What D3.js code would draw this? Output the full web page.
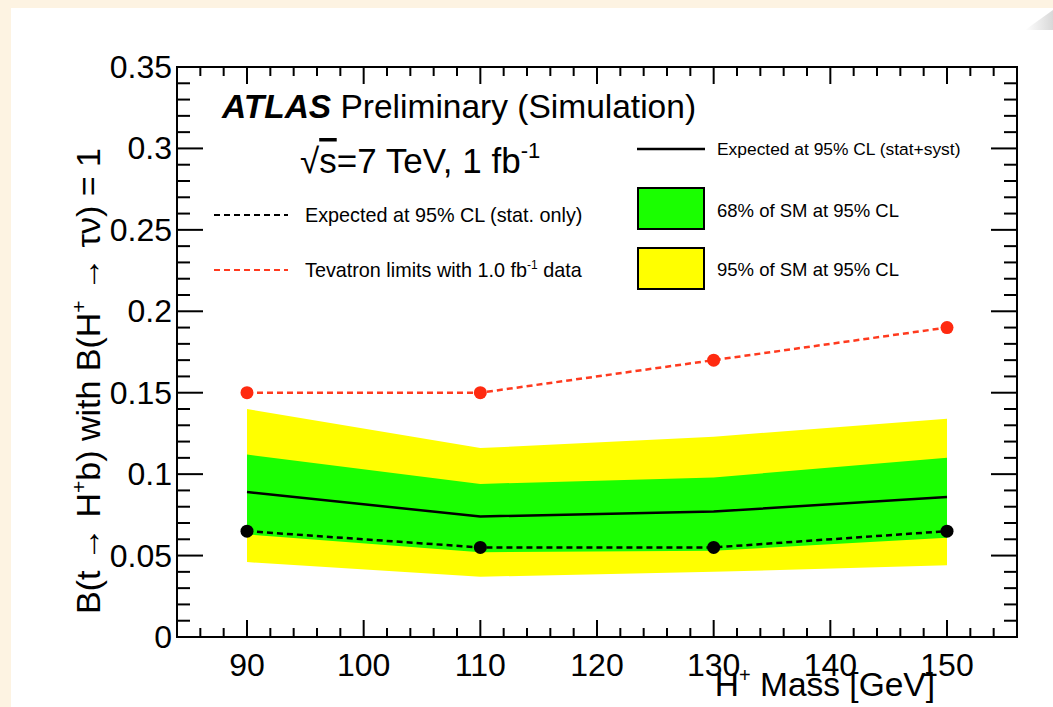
<!DOCTYPE html>
<html><head><meta charset="utf-8">
<script src="https://cdn.jsdelivr.net/npm/d3@7"></script>
<style>html,body{margin:0;padding:0;background:#fdf3e2;} svg{display:block;font-family:"Liberation Sans",Arial,Helvetica,sans-serif;}</style>
</head><body>
<svg id="c" width="1053" height="707"></svg>
<script>
// ---- data ----
const masses = [90, 110, 130, 150];
const tevatron = [0.15, 0.15, 0.17, 0.19];
const expStatOnly = [0.065, 0.055, 0.055, 0.065];
const expStatSyst = [0.089, 0.074, 0.077, 0.086];
const band68Lo = [0.063, 0.052, 0.053, 0.061];
const band68Hi = [0.112, 0.094, 0.098, 0.110];
const band95Lo = [0.046, 0.037, 0.040, 0.044];
const band95Hi = [0.140, 0.116, 0.123, 0.134];
const xTicks = [90, 100, 110, 120, 130, 140, 150];
const yTicks = [0, 0.05, 0.1, 0.15, 0.2, 0.25, 0.3, 0.35];
const yTickLabels = ["0", "0.05", "0.1", "0.15", "0.2", "0.25", "0.3", "0.35"];

const svg = d3.select("#c");
// page background
svg.append("rect").attr("x", 0).attr("y", 0).attr("width", 1053).attr("height", 707).attr("fill", "#fdf3e2");
svg.append("rect").attr("x", 11).attr("y", 8).attr("width", 1042).attr("height", 699).attr("fill", "#ffffff");
const defs = svg.append("defs");
const g0 = defs.append("linearGradient").attr("id", "gr").attr("x1", 0).attr("y1", 0).attr("x2", 1).attr("y2", 0);
g0.append("stop").attr("offset", 0).attr("stop-color", "#ffffff");
g0.append("stop").attr("offset", 1).attr("stop-color", "#d8d8d8");
svg.append("polygon").attr("points", "1025,30 1053,10 1053,30").attr("fill", "url(#gr)");

const L = 177, R = 1017, T = 67, B = 637;
const x = d3.scaleLinear().domain([84, 156]).range([L, R]);
const y = d3.scaleLinear().domain([0, 0.35]).range([B, T]);

// bands
const idx = d3.range(masses.length);
const area = (lo, hi) => d3.area().x(i => x(masses[i])).y0(i => y(lo[i])).y1(i => y(hi[i]))(idx);
svg.append("path").attr("d", area(band95Lo, band95Hi)).attr("fill", "#ffff00");
svg.append("path").attr("d", area(band68Lo, band68Hi)).attr("fill", "#1aff00");

const line = vals => d3.line().x(i => x(masses[i])).y(i => y(vals[i]))(idx);
svg.append("path").attr("d", line(expStatSyst)).attr("fill", "none").attr("stroke", "#000").attr("stroke-width", 2.5);
svg.append("path").attr("d", line(expStatOnly)).attr("fill", "none").attr("stroke", "#000").attr("stroke-width", 2.5).attr("stroke-dasharray", "6,4");
svg.append("path").attr("d", line(tevatron)).attr("fill", "none").attr("stroke", "#ff3a1e").attr("stroke-width", 2.5).attr("stroke-dasharray", "6,4");
svg.selectAll(".pb").data(idx).enter().append("circle").attr("cx", i => x(masses[i])).attr("cy", i => y(expStatOnly[i])).attr("r", 6.5).attr("fill", "#000");
svg.selectAll(".pr").data(idx).enter().append("circle").attr("cx", i => x(masses[i])).attr("cy", i => y(tevatron[i])).attr("r", 6.5).attr("fill", "#ff2a10");

// frame and ticks
const ax = svg.append("g").attr("stroke", "#000").attr("stroke-width", 2);
ax.append("rect").attr("x", L).attr("y", T).attr("width", R - L).attr("height", B - T).attr("fill", "none");
const xMinor = d3.range(86, 156, 2);
xMinor.forEach(v => {
  const major = v % 10 === 0;
  const len = major ? 17 : 9;
  ax.append("line").attr("x1", x(v)).attr("x2", x(v)).attr("y1", B).attr("y2", B - len);
  ax.append("line").attr("x1", x(v)).attr("x2", x(v)).attr("y1", T).attr("y2", T + len);
});
const yMinor = d3.range(1, 35).map(k => k / 100);
yMinor.forEach((v, k) => {
  const major = (k + 1) % 5 === 0;
  const len = major ? 26 : 13;
  ax.append("line").attr("x1", L).attr("x2", L + len).attr("y1", y(v)).attr("y2", y(v));
  ax.append("line").attr("x1", R).attr("x2", R - len).attr("y1", y(v)).attr("y2", y(v));
});

// tick labels
svg.selectAll(".xl").data(xTicks).enter().append("text").attr("x", d => x(d)).attr("y", 676)
  .attr("text-anchor", "middle").attr("font-size", 32).text(d => d);
svg.selectAll(".yl").data(yTicks).enter().append("text").attr("x", 172).attr("y", d => y(d) + 11)
  .attr("text-anchor", "end").attr("font-size", 32).text((d, i) => yTickLabels[i]);

// axis titles
const xt = svg.append("text").attr("x", 935).attr("y", 696).attr("text-anchor", "end").attr("font-size", 33.5);
xt.append("tspan").text("H");
xt.append("tspan").attr("font-size", 20).attr("dy", -14).text("+");
xt.append("tspan").attr("dy", 14).text(" Mass [GeV]");

const yt = svg.append("text").attr("transform", "translate(100,381) rotate(-90)").attr("text-anchor", "middle").attr("font-size", 34);
yt.append("tspan").text("B(t → H");
yt.append("tspan").attr("font-size", 21).attr("dy", -14).text("+");
yt.append("tspan").attr("dy", 14).text("b) with B(H");
yt.append("tspan").attr("font-size", 21).attr("dy", -14).text("+");
yt.append("tspan").attr("dy", 14).text(" → τν) = 1");

// ATLAS label
const at = svg.append("text").attr("x", 222).attr("y", 118).attr("font-size", 33.5);
at.append("tspan").attr("font-weight", "bold").attr("font-style", "italic").text("ATLAS");
at.append("tspan").text(" Preliminary (Simulation)");
const en = svg.append("text").attr("x", 300).attr("y", 173).attr("font-size", 35);
en.append("tspan").text("√");
en.append("tspan").attr("text-decoration", "overline").text("s");
en.append("tspan").text("=7 TeV, 1 fb");
en.append("tspan").attr("font-size", 22).attr("dy", -15).text("-1");

// legends
svg.append("line").attr("x1", 214).attr("x2", 288).attr("y1", 215).attr("y2", 215).attr("stroke", "#000").attr("stroke-width", 2).attr("stroke-dasharray", "6,4");
svg.append("text").attr("x", 305).attr("y", 222).attr("font-size", 19.8).text("Expected at 95% CL (stat. only)");
svg.append("line").attr("x1", 214).attr("x2", 288).attr("y1", 270).attr("y2", 270).attr("stroke", "#ff3a1e").attr("stroke-width", 2).attr("stroke-dasharray", "6,4");
const tv = svg.append("text").attr("x", 305).attr("y", 277).attr("font-size", 19.8);
tv.append("tspan").text("Tevatron limits with 1.0 fb");
tv.append("tspan").attr("font-size", 12).attr("dy", -8).text("-1");
tv.append("tspan").attr("dy", 8).text(" data");

svg.append("line").attr("x1", 637).attr("x2", 705).attr("y1", 149).attr("y2", 149).attr("stroke", "#000").attr("stroke-width", 2.5);
svg.append("text").attr("x", 717).attr("y", 155).attr("font-size", 17.4).text("Expected at 95% CL (stat+syst)");
svg.append("rect").attr("x", 638).attr("y", 188).attr("width", 66).attr("height", 41).attr("fill", "#1aff00").attr("stroke", "#000").attr("stroke-width", 2);
svg.append("text").attr("x", 717).attr("y", 217).attr("font-size", 18.5).text("68% of SM at 95% CL");
svg.append("rect").attr("x", 638).attr("y", 248).attr("width", 66).attr("height", 41).attr("fill", "#ffff00").attr("stroke", "#000").attr("stroke-width", 2);
svg.append("text").attr("x", 717).attr("y", 276).attr("font-size", 18.5).text("95% of SM at 95% CL");
</script>
</body></html>
